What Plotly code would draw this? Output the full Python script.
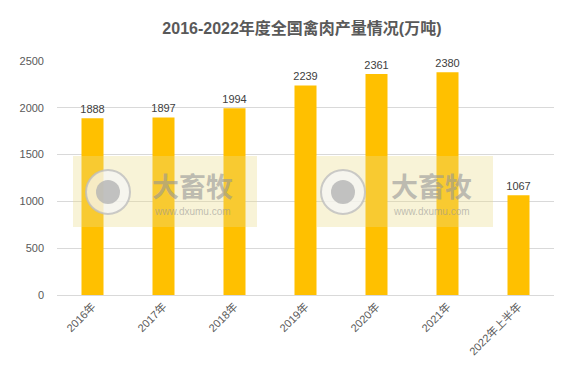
import plotly.graph_objects as go

categories = ["2016年", "2017年", "2018年", "2019年", "2020年", "2021年", "2022年上半年"]
values = [1888, 1897, 1994, 2239, 2361, 2380, 1067]
y_ticks = [0, 500, 1000, 1500, 2000, 2500]

FONT = "Liberation Sans, Noto Sans CJK SC, sans-serif"

fig = go.Figure()
fig.add_trace(go.Bar(
    x=categories, y=values,
    marker=dict(color="#FFC000", line=dict(width=0)),
    text=[str(v) for v in values], textposition="outside",
    textfont=dict(size=11, color="#404040", family=FONT),
    constraintext="none",
    cliponaxis=False,
))

L, R, T, B = 57, 30, 61, 79
W, H = 584, 374
pw, ph = W - L - R, H - T - B

def px(x):
    return (x - L) / pw

def py(y):
    return (H - B - y) / ph

shapes = []
annotations = []
for (x0, x1, cx, tx) in [(73, 257, 108, 192), (317, 493, 343, 431)]:
    shapes.append(dict(type="rect", xref="paper", yref="paper", layer="above",
                       x0=px(x0), x1=px(x1), y0=py(227), y1=py(156),
                       fillcolor="rgba(236,222,140,0.35)", line=dict(width=0)))
    shapes.append(dict(type="circle", xref="paper", yref="paper", layer="above",
                       x0=px(cx - 22), x1=px(cx + 22), y0=py(214), y1=py(170),
                       fillcolor="rgba(245,245,245,0.75)", line=dict(color="rgba(190,190,190,0.8)", width=2)))
    shapes.append(dict(type="circle", xref="paper", yref="paper", layer="above",
                       x0=px(cx - 12), x1=px(cx + 12), y0=py(204), y1=py(180),
                       fillcolor="rgba(180,180,180,0.8)", line=dict(width=0)))
    annotations.append(dict(text="<b>大畜牧</b>", xref="paper", yref="paper", x=px(tx), y=py(185),
                            showarrow=False, font=dict(size=27, color="rgba(150,150,150,0.6)",
                                                       family="Noto Sans CJK SC"), xanchor="center", yanchor="middle"))
    annotations.append(dict(text="www.dxumu.com", xref="paper", yref="paper", x=px(tx), y=py(211),
                            showarrow=False, font=dict(size=10, color="rgba(150,150,150,0.6)",
                                                       family=FONT), xanchor="center", yanchor="middle"))

fig.update_layout(
    width=W, height=H,
    margin=dict(l=L, r=R, t=T, b=B, pad=0),
    paper_bgcolor="white", plot_bgcolor="white",
    title=dict(text="<b>2016-2022年度全国禽肉产量情况(万吨)</b>", x=0.517, xanchor="center",
               y=1 - 28 / H, yanchor="middle",
               font=dict(size=16, color="#595959", family=FONT)),
    bargap=0.69,
    showlegend=False,
    font=dict(family=FONT, color="#595959", size=11),
    xaxis=dict(showgrid=False, tickangle=-45, showline=True, linecolor="#D9D9D9", linewidth=1,
               ticks="", tickfont=dict(size=11, color="#595959")),
    yaxis=dict(range=[0, 2500], tickvals=y_ticks, showgrid=True, gridcolor="#D9D9D9", gridwidth=1,
               zeroline=False, showline=False, ticks="", ticklabelstandoff=12,
               tickfont=dict(size=11, color="#595959")),
    shapes=shapes, annotations=annotations,
)

fig.write_html("out.html")
